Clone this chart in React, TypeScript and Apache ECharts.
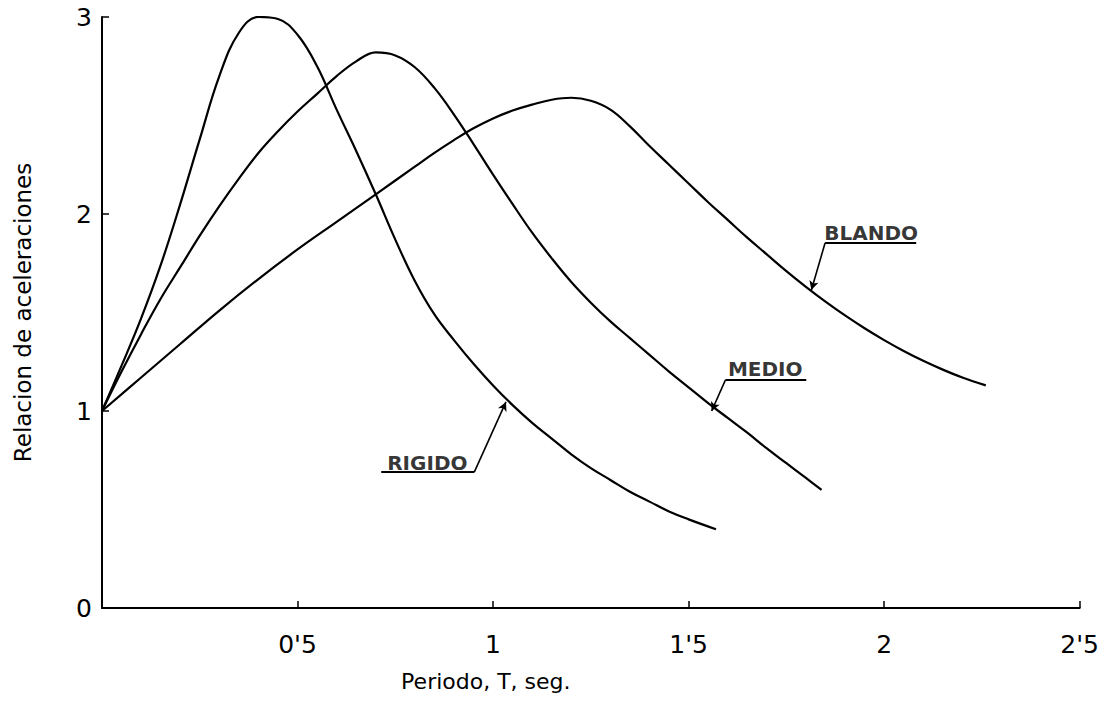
import React, { useEffect, useRef } from "react";
import * as echarts from "echarts";

// ---- data ----
const xTickLabels = ["", "0'5", "1", "1'5", "2", "2'5"];
const yTickLabels = ["0", "1", "2", "3"];

const rigido: [number, number][] = [
  [0, 1.0], [0.05, 1.23], [0.1, 1.47], [0.15, 1.74], [0.2, 2.05], [0.25, 2.38], [0.3, 2.7],
  [0.35, 2.92], [0.4, 3.0], [0.45, 2.99], [0.5, 2.91], [0.55, 2.75], [0.6, 2.53], [0.65, 2.32],
  [0.7, 2.1], [0.75, 1.87], [0.8, 1.66], [0.85, 1.49], [0.9, 1.36], [0.95, 1.24], [1.0, 1.13],
  [1.05, 1.03], [1.1, 0.94], [1.15, 0.86], [1.2, 0.78], [1.25, 0.71], [1.3, 0.65], [1.35, 0.59],
  [1.4, 0.54], [1.45, 0.49], [1.5, 0.45], [1.57, 0.4],
];
const medio: [number, number][] = [
  [0, 1.0], [0.05, 1.2], [0.1, 1.39], [0.15, 1.57], [0.2, 1.73], [0.25, 1.89], [0.3, 2.04],
  [0.35, 2.18], [0.4, 2.31], [0.45, 2.42], [0.5, 2.52], [0.55, 2.61], [0.6, 2.7], [0.65, 2.775],
  [0.7, 2.82], [0.75, 2.805], [0.8, 2.745], [0.85, 2.64], [0.9, 2.505], [0.95, 2.355], [1.0, 2.2],
  [1.05, 2.05], [1.1, 1.905], [1.15, 1.775], [1.2, 1.655], [1.25, 1.55], [1.3, 1.455], [1.35, 1.37],
  [1.4, 1.285], [1.45, 1.2], [1.5, 1.12], [1.55, 1.04], [1.6, 0.965], [1.65, 0.89], [1.7, 0.81],
  [1.75, 0.735], [1.8, 0.66], [1.84, 0.6],
];
const blando: [number, number][] = [
  [0, 1.0], [0.1, 1.17], [0.2, 1.34], [0.3, 1.51], [0.4, 1.67], [0.5, 1.82], [0.6, 1.96],
  [0.7, 2.1], [0.8, 2.24], [0.85, 2.31], [0.9, 2.375], [0.95, 2.435], [1.0, 2.485], [1.05, 2.525],
  [1.1, 2.555], [1.15, 2.58], [1.2, 2.59], [1.25, 2.575], [1.3, 2.53], [1.35, 2.445], [1.4, 2.345],
  [1.45, 2.25], [1.5, 2.155], [1.55, 2.06], [1.6, 1.97], [1.65, 1.88], [1.7, 1.795], [1.75, 1.71],
  [1.8, 1.63], [1.85, 1.555], [1.9, 1.485], [1.95, 1.42], [2.0, 1.36], [2.05, 1.305], [2.1, 1.255],
  [2.15, 1.21], [2.2, 1.17], [2.26, 1.13],
];

// annotation names, label anchors, underline ends, leader start and arrow tips (data coordinates)
const annNames = ["RIGIDO", "MEDIO", "BLANDO"];
const annText: [number, number][] = [[0.832, 0.736], [1.696, 1.215], [1.967, 1.905]];
const annUnderline: [number, number][][] = [
  [[0.714, 0.69], [0.952, 0.69]],
  [[1.594, 1.157], [1.801, 1.157]],
  [[1.849, 1.853], [2.082, 1.853]],
];
const annLeaderStart = [1, 0, 0];
const annTip: [number, number][] = [[1.033, 1.046], [1.559, 1.0], [1.814, 1.614]];

const FONT = "DejaVu Sans";

export default function App() {
  const ref = useRef<HTMLDivElement>(null);
  useEffect(() => {
    if (!ref.current) return;
    const chart = echarts.init(ref.current, undefined, { renderer: "svg" });
    const curve = (name: string, data: [number, number][]) => ({
      name,
      type: "line",
      data,
      smooth: 0.4,
      symbol: "none",
      lineStyle: { color: "#000", width: 2.2 },
      silent: true,
    });
    const annSeries = annNames.map((n, i) => ({
      name: n + " leader",
      type: "line",
      data: annUnderline[i],
      symbol: "none",
      lineStyle: { color: "#000", width: 2 },
      silent: true,
      markLine: {
        silent: true,
        symbol: ["none", "arrow"],
        symbolSize: [7, 9],
        lineStyle: { color: "#000", width: 1.6, type: "solid" },
        label: { show: false },
        data: [[{ coord: annUnderline[i][annLeaderStart[i]] }, { coord: annTip[i] }]],
      },
    }));
    const textSeries = {
      name: "labels",
      type: "scatter",
      symbolSize: 0,
      silent: true,
      data: annNames.map((n, i) => ({ value: annText[i], name: n })),
      label: {
        show: true,
        position: "inside",
        formatter: (p: any) => p.name,
        color: "#000",
        fontFamily: FONT,
        fontSize: 20,
        fontWeight: "bold",
      },
    };
    chart.setOption({
      animation: false,
      backgroundColor: "#fff",
      grid: { left: 102, right: 20, top: 17, bottom: 93 },
      xAxis: {
        type: "value",
        min: 0,
        max: 2.5,
        interval: 0.5,
        name: "Periodo, T, seg.",
        nameLocation: "middle",
        nameGap: 62,
        nameTextStyle: { color: "#000", fontFamily: FONT, fontSize: 22, padding: [0, 210, 0, 0] },
        axisLine: { lineStyle: { color: "#000", width: 2 } },
        axisTick: { inside: true, length: 7, lineStyle: { color: "#000", width: 1.5 } },
        splitLine: { show: false },
        axisLabel: {
          color: "#000",
          fontFamily: FONT,
          fontSize: 25,
          margin: 24,
          formatter: (v: number) => xTickLabels[Math.round(v / 0.5)] ?? "",
        },
      },
      yAxis: {
        type: "value",
        min: 0,
        max: 3,
        interval: 1,
        name: "Relacion de aceleraciones",
        nameLocation: "middle",
        nameGap: 68,
        nameTextStyle: { color: "#000", fontFamily: FONT, fontSize: 23 },
        axisLine: { show: true, lineStyle: { color: "#000", width: 2 } },
        axisTick: { show: true, inside: true, length: 7, lineStyle: { color: "#000", width: 1.5 } },
        splitLine: { show: false },
        axisLabel: {
          color: "#000",
          fontFamily: FONT,
          fontSize: 25,
          margin: 10,
          formatter: (v: number) => yTickLabels[Math.round(v)] ?? "",
        },
      },
      series: [
        curve("RIGIDO", rigido),
        curve("MEDIO", medio),
        curve("BLANDO", blando),
        ...annSeries,
        textSeries,
      ],
    });
    return () => chart.dispose();
  }, []);
  return (
    <div
      ref={ref}
      style={{ position: "fixed", left: 0, top: 0, width: 1102, height: 701, background: "#fff" }}
    />
  );
}
